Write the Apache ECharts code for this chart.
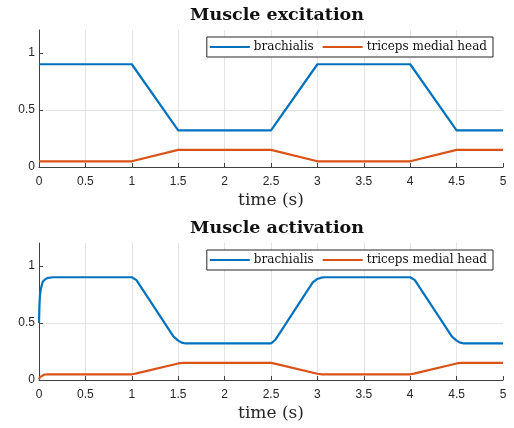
<!DOCTYPE html>
<html>
<head>
<meta charset="utf-8">
<script src="https://cdn.jsdelivr.net/npm/echarts@6/dist/echarts.min.js"></script>
<style>
  html, body { margin: 0; padding: 0; background: #fff; }
  #chart { width: 514px; height: 428px; }
</style>
</head>
<body>
<div id="chart"></div>
<script>
// excitation inputs (time s, value)
var excBrachialis = [[0, 0.9], [1, 0.9], [1.5, 0.32], [2.5, 0.32], [3, 0.9], [4, 0.9], [4.5, 0.32], [5, 0.32]];
var excTriceps = [[0, 0.05], [1, 0.05], [1.5, 0.15], [2.5, 0.15], [3, 0.05], [4, 0.05], [4.5, 0.15], [5, 0.15]];

// activation
var actBrachialis = [
    [0, 0.5], [0.005, 0.66], [0.01, 0.74], [0.02, 0.8], [0.04, 0.86], [0.07, 0.885], [0.1, 0.895], [0.15, 0.9],
    [1, 0.9], [1.02, 0.895], [1.05, 0.875], [1.45, 0.38], [1.5, 0.345], [1.54, 0.327], [1.58, 0.32],
    [2.5, 0.32], [2.52, 0.327], [2.55, 0.355], [2.95, 0.855], [3.0, 0.885], [3.04, 0.896], [3.08, 0.9],
    [4, 0.9], [4.02, 0.895], [4.05, 0.875], [4.45, 0.38], [4.5, 0.345], [4.54, 0.327], [4.58, 0.32],
    [5, 0.32]
];
var actTriceps = [
    [0, 0.005], [0.01, 0.025], [0.03, 0.04], [0.06, 0.048], [0.1, 0.05],
    [1, 0.05], [1.04, 0.056], [1.5, 0.145], [1.55, 0.15],
    [2.5, 0.15], [2.54, 0.143], [3.0, 0.055], [3.05, 0.05],
    [4, 0.05], [4.04, 0.056], [4.5, 0.145], [4.55, 0.15],
    [5, 0.15]
];

var titles = ['Muscle excitation', 'Muscle activation'];
var seriesNames = ['brachialis', 'triceps medial head'];
var yTicks = [0, 0.5, 1];

var blue = '#0072BD', orange = '#D95319';
var axisColor = '#262626';
var serif = 'DejaVu Serif';
var sans = 'Liberation Sans';

var chart = echarts.init(document.getElementById('chart'));

var tops = [30, 243];

function makeXAxis(i) {
    return {
        type: 'value', gridIndex: i, min: 0, max: 5, interval: 0.5,
        name: 'time (s)', nameLocation: 'middle', nameGap: 25, nameMoveOverlap: false,
        nameTextStyle: { fontFamily: serif, fontSize: 17, color: axisColor, verticalAlign: 'top' },
        axisLine: { lineStyle: { color: '#404040', width: 1 } },
        axisTick: { inside: true, length: 4, lineStyle: { color: '#404040' } },
        axisLabel: { fontFamily: sans, fontSize: 12, color: axisColor, margin: 9 },
        splitLine: { show: true, showMinLine: false, showMaxLine: false, lineStyle: { color: '#e4e4e4', width: 1 } }
    };
}
function makeYAxis(i) {
    return {
        type: 'value', gridIndex: i, min: 0, max: 1.2, interval: 0.5,
        axisLine: { show: true, lineStyle: { color: '#404040', width: 1 } },
        axisTick: { show: true, inside: true, length: 4, customValues: yTicks, lineStyle: { color: '#404040' } },
        axisLabel: { fontFamily: sans, fontSize: 12, color: axisColor, margin: 4, customValues: yTicks },
        splitLine: { show: true, showMinLine: false, showMaxLine: false, lineStyle: { color: '#e4e4e4', width: 1 } }
    };
}
function makeLegend(i) {
    return {
        right: 21, top: tops[i] + 7,
        orient: 'horizontal',
        data: seriesNames,
        itemWidth: 40, itemHeight: 12, itemGap: 9,
        icon: 'path://M0,5 L40,5 L40,7.2 L0,7.2 Z',
        borderColor: '#262626', borderWidth: 1, borderRadius: 0,
        backgroundColor: '#fff',
        padding: [4, 6, 4, 3],
        textStyle: { fontFamily: serif, fontSize: 12, color: '#111', padding: [0, 0, 0, -1] },
        selectedMode: false
    };
}
function makeLine(name, data, color, i) {
    return {
        name: name, type: 'line', xAxisIndex: i, yAxisIndex: i,
        data: data, showSymbol: false, symbol: 'none', smooth: false,
        lineStyle: { color: color, width: 2.2 }, itemStyle: { color: color },
        animation: false
    };
}

chart.setOption({
    backgroundColor: '#fff',
    color: [blue, orange],
    title: [
        { text: titles[0], left: 272, textAlign: 'center', top: 1,
          textStyle: { fontFamily: serif, fontWeight: 'bold', fontSize: 17.5, color: '#111' } },
        { text: titles[1], left: 272, textAlign: 'center', top: 214,
          textStyle: { fontFamily: serif, fontWeight: 'bold', fontSize: 17.5, color: '#111' } }
    ],
    legend: [makeLegend(0), makeLegend(1)],
    grid: [
        { left: 39, right: 11, top: tops[0], height: 137 },
        { left: 39, right: 11, top: tops[1], height: 137 }
    ],
    xAxis: [makeXAxis(0), makeXAxis(1)],
    yAxis: [makeYAxis(0), makeYAxis(1)],
    series: [
        makeLine(seriesNames[0], excBrachialis, blue, 0),
        makeLine(seriesNames[1], excTriceps, orange, 0),
        makeLine(seriesNames[0], actBrachialis, blue, 1),
        makeLine(seriesNames[1], actTriceps, orange, 1)
    ]
});
</script>
</body>
</html>
